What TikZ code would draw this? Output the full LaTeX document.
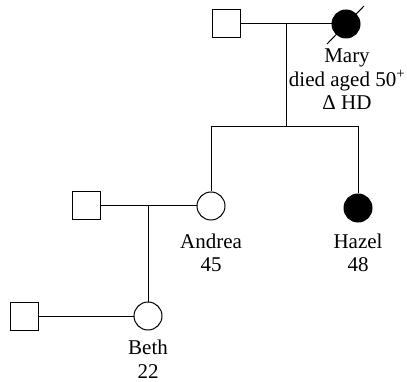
\documentclass[tikz,border=0pt]{standalone}
\usepackage{fontspec}
\setmainfont{Liberation Serif}
\begin{document}
\begin{tikzpicture}[
    x=1pt, y=-1pt,
    line width=1pt,
    font=\fontsize{21}{23.5}\selectfont,
    male/.style={
        draw,
        minimum size=28pt,
        inner sep=0pt
    },
    female/.style={
        draw,
        circle,
        minimum size=28pt,
        inner sep=0pt
    },
    affected/.style={
        fill=black
    },
    personlabel/.style={
        anchor=base,
        align=center,
        inner sep=0pt
    }
]
\useasboundingbox (0,0) rectangle (407,382);

% first generation
\node[male] (grandpa) at (226,24) {};
\node[female, affected] (mary) at (346,24) {};
\draw (327,44) -- (364,6);
\node[personlabel] (maryL) at (347,110) {Mary\\died aged 50\textsuperscript{+}\\Δ HD};

\coordinate (m1) at (286,24);
\coordinate (bar1) at (286,127);
\draw (grandpa) -- (mary);
\draw (m1) -- (bar1);

% second generation
\node[male] (husband) at (86,206) {};
\node[female] (andrea) at (211,206) {};
\node[female, affected] (hazel) at (358,208) {};
\node[personlabel] (andreaL) at (211,272) {Andrea\\45};
\node[personlabel] (hazelL) at (358,272) {Hazel\\48};

\draw (andrea.north) |- (hazel.north |- bar1) -- (hazel);
\draw (husband) -- (andrea);

% third generation
\coordinate (m2) at (148,206);
\node[male] (partner) at (24,316) {};
\node[female] (beth) at (148,316) {};
\node[personlabel] (bethL) at (148,378) {Beth\\22};

\draw (m2) -- (beth);
\draw (partner) -- (beth);

\end{tikzpicture}
\end{document}
